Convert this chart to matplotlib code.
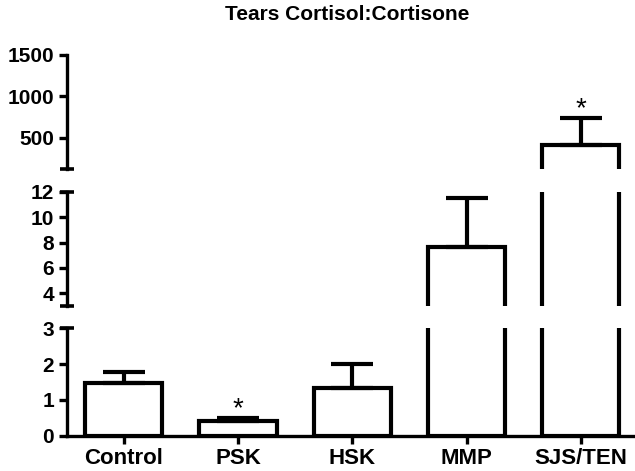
import matplotlib
matplotlib.use("Agg")
import matplotlib.pyplot as plt

plt.rcParams['font.family'] = ['Liberation Sans', 'DejaVu Sans']
plt.rcParams['font.weight'] = 'bold'

# Data
groups = ["Control", "PSK", "HSK", "MMP", "SJS/TEN"]
means = [1.47, 0.41, 1.34, 7.67, 412]
errors = [0.32, 0.08, 0.66, 3.81, 323]
starred = [False, True, False, False, True]

# three pieces of the broken y axis: (ylim, ticks)
segments = [
    ((0, 3), [0, 1, 2, 3]),
    ((3, 12), [4, 6, 8, 10, 12]),
    ((118, 1500), [500, 1000, 1500]),
]
# axes rectangles in figure fractions (bottom, height)
boxes = [(0.075, 0.228), (0.350, 0.243), (0.6406, 0.2427)]

LW = 3
fig = plt.figure(figsize=(6.35, 4.71), dpi=100)
x = list(range(len(groups)))

axes = []
for (ylim, ticks), (b, h) in zip(segments, boxes):
    ax = fig.add_axes([0.105, b, 0.8995, h])
    ax.bar(x, means, width=0.675, color="white", edgecolor="black",
           linewidth=LW, zorder=2)
    ax.errorbar(x, means, yerr=[[0] * len(x), errors], fmt="none",
                ecolor="black", elinewidth=LW, capsize=15, capthick=LW,
                zorder=3)
    ax.set_xlim(-0.5, 4.5)
    ax.set_ylim(*ylim)
    ax.set_yticks(ticks)
    for s in ["top", "right"]:
        ax.spines[s].set_visible(False)
    ax.spines["left"].set_linewidth(2.4)
    ax.tick_params(axis="y", length=6, width=2.4, pad=3, labelsize=15)
    ax.set_facecolor("none")
    axes.append(ax)

bottom, middle, top = axes

# x axis only on the bottom piece
bottom.spines["bottom"].set_linewidth(2.4)
bottom.set_xticks(x)
bottom.set_xticklabels(groups, fontsize=16)
bottom.tick_params(axis="x", length=6, width=2.4, pad=3)
for ax in (middle, top):
    ax.spines["bottom"].set_visible(False)
    ax.set_xticks([])

# small caps at the broken ends of the y axis
for ax, ends in ((bottom, [1]), (middle, [0, 1]), (top, [0])):
    for yy in ends:
        ax.plot([0], [yy], marker="_", markersize=9.5, mew=2.6,
                color="black", transform=ax.transAxes, clip_on=False)

# significance stars
for i, s in enumerate(starred):
    if not s:
        continue
    top_val = means[i] + errors[i]
    ax = bottom if top_val <= 3 else (middle if top_val <= 12 else top)
    ax.annotate("*", (i, top_val), xytext=(0, -3), textcoords="offset points",
                ha="center", va="bottom", fontsize=20, fontweight="normal")

fig.suptitle("Tears Cortisol:Cortisone", x=0.547, y=0.99, fontsize=15,
             fontweight="bold")

fig.savefig("out.png", dpi=100)
